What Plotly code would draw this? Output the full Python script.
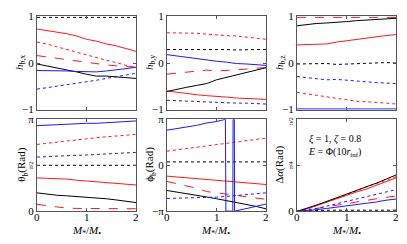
import math
import plotly.graph_objects as go

W, H = 407, 244
PI = math.pi

x = [0.0, 0.2, 0.4, 0.6, 0.8, 1.0, 1.2, 1.4, 1.6, 1.8, 2.0]
x_ticks = [0, 1, 2]
x_tick_labels = ["0", "1", "2"]

# h_b,x
hx_red_solid = [0.73, 0.70, 0.66, 0.63, 0.58, 0.51, 0.47, 0.41, 0.37, 0.31, 0.25]
hx_red_dash = [0.16, 0.13, 0.10, 0.07, 0.04, 0.01, -0.02, -0.04, -0.06, -0.08, -0.09]
hx_red_dot = [0.45, 0.41, 0.35, 0.29, 0.24, 0.17, 0.12, 0.06, 0.01, -0.05, -0.09]
hx_black_solid = [-0.02, -0.06, -0.10, -0.15, -0.19, -0.24, -0.28, -0.28, -0.30, -0.31, -0.33]
hx_black_dot = [0.98, 0.98, 0.98, 0.98, 0.98, 0.98, 0.98, 0.98, 0.98, 0.98, 0.98]
hx_blue_solid = [-0.16, -0.16, -0.16, -0.17, -0.18, -0.18, -0.19, -0.17, -0.15, -0.12, -0.09]
hx_blue_dot = [-0.56, -0.53, -0.50, -0.47, -0.44, -0.41, -0.37, -0.33, -0.29, -0.25, -0.22]

# h_b,y
hy_red_solid = [-0.60, -0.63, -0.66, -0.68, -0.70, -0.71, -0.73, -0.75, -0.76, -0.77, -0.78]
hy_red_dash = [-0.24, -0.22, -0.20, -0.18, -0.15, -0.17, -0.16, -0.14, -0.13, -0.11, -0.10]
hy_red_dot = [0.65, 0.65, 0.65, 0.64, 0.62, 0.60, 0.59, 0.58, 0.56, 0.54, 0.51]
hy_black_solid = [-0.61, -0.56, -0.52, -0.48, -0.44, -0.36, -0.31, -0.25, -0.20, -0.15, -0.10]
hy_black_dot = [0.29, 0.29, 0.29, 0.30, 0.29, 0.29, 0.29, 0.28, 0.29, 0.29, 0.29]
hy_blue_solid = [0.18, 0.15, 0.12, 0.09, 0.07, 0.04, 0.02, -0.01, -0.02, -0.04, -0.05]
hy_blue_dot = [-0.80, -0.81, -0.81, -0.82, -0.83, -0.84, -0.85, -0.86, -0.86, -0.87, -0.88]

# h_b,z
hz_red_solid = [0.39, 0.40, 0.40, 0.41, 0.45, 0.48, 0.51, 0.54, 0.56, 0.59, 0.61]
hz_red_dash = [0.98, 0.98, 0.98, 0.98, 0.98, 0.98, 0.98, 0.98, 0.98, 0.98, 0.98]
hz_red_dot = [-0.63, -0.66, -0.69, -0.72, -0.76, -0.79, -0.82, -0.83, -0.84, -0.86, -0.88]
hz_black_solid = [0.80, 0.83, 0.85, 0.86, 0.87, 0.89, 0.91, 0.92, 0.94, 0.95, 0.96]
hz_black_dot = [-0.02, -0.02, -0.01, -0.01, -0.03, -0.02, -0.01, -0.01, 0.00, 0.01, 0.00]
hz_blue_solid = [-0.985, -0.985, -0.985, -0.985, -0.985, -0.985, -0.985, -0.985, -0.985, -0.985, -0.985]
hz_blue_dot = [-0.29, -0.31, -0.33, -0.36, -0.35, -0.37, -0.39, -0.40, -0.42, -0.43, -0.44]

# theta_b (rad)
th_blue_solid = [2.92, 2.94, 2.95, 2.97, 2.98, 3.00, 3.00, 3.02, 3.03, 3.05, 3.08]
th_red_dot = [2.28, 2.32, 2.36, 2.40, 2.45, 2.48, 2.51, 2.54, 2.56, 2.59, 2.62]
th_blue_dot = [1.85, 1.87, 1.88, 1.89, 1.91, 1.92, 1.94, 1.96, 1.97, 1.99, 2.01]
th_black_dot = [1.57, 1.57, 1.56, 1.57, 1.58, 1.57, 1.57, 1.58, 1.57, 1.57, 1.57]
th_red_solid = [1.14, 1.13, 1.11, 1.10, 1.06, 1.03, 1.00, 0.97, 0.95, 0.92, 0.90]
th_black_solid = [0.63, 0.58, 0.55, 0.53, 0.51, 0.48, 0.46, 0.43, 0.39, 0.34, 0.30]
th_red_dash = [0.24, 0.19, 0.15, 0.11, 0.10, 0.10, 0.11, 0.10, 0.10, 0.09, 0.09]

# phi_b (rad)
ph_red_dot = [0.96, 1.05, 1.13, 1.22, 1.31, 1.40, 1.49, 1.58, 1.67, 1.76, 1.85]
ph_black_dot = [0.23, 0.23, 0.22, 0.23, 0.23, 0.22, 0.23, 0.23, 0.22, 0.23, 0.23]
ph_red_solid = [-0.74, -0.80, -0.85, -0.91, -0.97, -1.03, -1.08, -1.14, -1.19, -1.25, -1.31]
ph_red_dash = [-1.10, -1.26, -1.41, -1.57, -1.79, -1.88, -1.95, -2.01, -2.10, -2.20, -2.32]
ph_black_solid = [-1.72, -1.82, -1.93, -2.05, -2.16, -2.28, -2.40, -2.52, -2.65, -2.80, -2.97]
ph_blue_dot = [-2.26, -2.25, -2.24, -2.22, -2.20, -2.17, -2.12, -2.06, -2.00, -1.94, -1.88]
ph_blue_solid_x = [0.0, 0.2, 0.4, 0.6, 0.8, 1.0, 1.18, 1.19, 1.25, 1.33, 1.335, 1.36, 1.365, 1.4, 1.6, 1.8, 2.0]
ph_blue_solid = [2.39, 2.50, 2.57, 2.72, 2.88, 2.98, 3.13, -3.13, -3.12, -3.13, 3.13, 3.12, -3.13, -3.10, -2.98, -2.80, -2.64]

# delta alpha (rad)
da_black_solid = [0, 0.05, 0.11, 0.17, 0.23, 0.29, 0.35, 0.42, 0.48, 0.55, 0.62]
da_red_solid = [0, 0.04, 0.10, 0.16, 0.22, 0.28, 0.33, 0.38, 0.44, 0.51, 0.57]
da_red_dot = [0, 0.04, 0.10, 0.16, 0.21, 0.28, 0.35, 0.42, 0.47, 0.53, 0.59]
da_blue_dot = [0, 0.02, 0.05, 0.09, 0.13, 0.17, 0.21, 0.25, 0.29, 0.33, 0.37]
da_red_dash = [0, 0.02, 0.05, 0.08, 0.10, 0.13, 0.16, 0.19, 0.21, 0.24, 0.26]
da_blue_solid = [0, 0.01, 0.03, 0.05, 0.07, 0.09, 0.11, 0.14, 0.16, 0.19, 0.21]
da_black_dot = [0, 0.01, 0.01, 0.02, 0.02, 0.02, 0.03, 0.02, 0.02, 0.02, 0.02]

RED, BLUE, BLACK = "#ff1a1a", "#1a1aff", "#000000"
FRAME = "#555555"
FONT = "Liberation Serif"

fig = go.Figure()

def px_x(p):
    return p / W

def px_y(p):
    return 1 - p / H

cols = [(37, 136), (167, 266), (297, 396)]
rows = [(11, 109), (119, 216)]

def add(ax_i, xs, ys, color, dash):
    suffix = "" if ax_i == 1 else str(ax_i)
    fig.add_trace(go.Scatter(x=xs, y=ys, mode="lines",
                             line=dict(color=color, width=1.0, dash=dash),
                             xaxis="x" + suffix, yaxis="y" + suffix,
                             showlegend=False, hoverinfo="skip"))

panels = [
    (1, [(hx_red_solid, RED, "solid"), (hx_red_dash, RED, "dash"), (hx_red_dot, RED, "dot"),
         (hx_black_solid, BLACK, "solid"), (hx_black_dot, BLACK, "dot"),
         (hx_blue_solid, BLUE, "solid"), (hx_blue_dot, BLUE, "dot")]),
    (2, [(hy_red_solid, RED, "solid"), (hy_red_dash, RED, "dash"), (hy_red_dot, RED, "dot"),
         (hy_black_solid, BLACK, "solid"), (hy_black_dot, BLACK, "dot"),
         (hy_blue_solid, BLUE, "solid"), (hy_blue_dot, BLUE, "dot")]),
    (3, [(hz_red_solid, RED, "solid"), (hz_red_dash, RED, "dash"), (hz_red_dot, RED, "dot"),
         (hz_black_solid, BLACK, "solid"), (hz_black_dot, BLACK, "dot"),
         (hz_blue_solid, BLUE, "solid"), (hz_blue_dot, BLUE, "dot")]),
    (4, [(th_red_solid, RED, "solid"), (th_red_dash, RED, "dash"), (th_red_dot, RED, "dot"),
         (th_black_solid, BLACK, "solid"), (th_black_dot, BLACK, "dot"),
         (th_blue_solid, BLUE, "solid"), (th_blue_dot, BLUE, "dot")]),
    (5, [(ph_red_solid, RED, "solid"), (ph_red_dash, RED, "dash"), (ph_red_dot, RED, "dot"),
         (ph_black_solid, BLACK, "solid"), (ph_black_dot, BLACK, "dot"),
         (ph_blue_dot, BLUE, "dot")]),
    (6, [(da_red_solid, RED, "solid"), (da_red_dash, RED, "dash"), (da_red_dot, RED, "dot"),
         (da_black_solid, BLACK, "solid"), (da_black_dot, BLACK, "dot"),
         (da_blue_solid, BLUE, "solid"), (da_blue_dot, BLUE, "dot")]),
]
for ax_i, series in panels:
    for ys, c, d in series:
        add(ax_i, x, ys, c, d)
add(5, ph_blue_solid_x, ph_blue_solid, BLUE, "solid")

tickfont = dict(family=FONT, size=11, color="black")
yspecs = {
    1: ([-1, 0, 1], ["−1", "0", "1"], [-1, 1]),
    2: ([-1, 0, 1], ["−1", "0", "1"], [-1, 1]),
    3: ([-1, 0, 1], ["−1", "0", "1"], [-1, 1]),
    4: ([0, PI / 2, PI], ["0", "", "π"], [0, PI]),
    5: ([-PI, 0, PI], ["−π", "0", "π"], [-PI, PI]),
    6: ([0, PI / 4, PI / 2], ["0", "", ""], [0, PI / 2]),
}
layout = {}
for i in range(1, 7):
    r = 0 if i <= 3 else 1
    c = (i - 1) % 3
    suffix = "" if i == 1 else str(i)
    x0, x1 = cols[c]
    y0, y1 = rows[r]
    layout["xaxis" + suffix] = dict(
        domain=[px_x(x0), px_x(x1)], range=[0, 2], anchor="y" + suffix,
        tickvals=x_ticks, showticklabels=False,
        ticks="inside", ticklen=3, tickcolor=FRAME, showline=True, linecolor=FRAME,
        linewidth=1, mirror="ticks", showgrid=False, zeroline=False)
    tv, tt, rg = yspecs[i]
    layout["yaxis" + suffix] = dict(
        domain=[px_y(y1), px_y(y0)], range=rg, anchor="x" + suffix,
        tickvals=tv, ticktext=tt, ticks="inside", ticklen=3, tickcolor=FRAME,
        showline=True, linecolor=FRAME, linewidth=1, mirror="ticks",
        showgrid=False, zeroline=False, tickfont=tickfont)

ann = []
def label(text, xp, yp, angle=-90, size=11):
    ann.append(dict(text=text, x=px_x(xp), y=px_y(yp), xref="paper", yref="paper",
                    showarrow=False, textangle=angle,
                    font=dict(family=FONT, size=size, color="black"),
                    xanchor="center", yanchor="middle"))

label("<i>h</i><sub>b,x</sub>", 20, 60)
label("<i>h</i><sub>b,y</sub>", 150, 60)
label("<i>h</i><sub>b,z</sub>", 280, 60)
label("θ<sub>b</sub>(Rad)", 22, 167)
label("ϕ<sub>b</sub>(Rad)", 150, 167)
label("Δ<i>α</i>(Rad)", 280, 167)
for cx in (86, 216, 346):
    label("<i>M</i><sub>*</sub>/<i>M</i><sub>•</sub>", cx, 236.5, angle=0)
# x tick labels of the bottom row, placed at the axis tick values
for ax in ("x4", "x5", "x6"):
    for v, t in zip(x_ticks, x_tick_labels):
        ann.append(dict(text=t, x=v, xref=ax, y=px_y(222), yref="paper",
                        showarrow=False, xanchor="center", yanchor="middle",
                        font=dict(family=FONT, size=11, color="black")))
# small rotated fraction tick labels
label("π/2", 31, 167.5, size=6)
label("π/4", 291, 167.5, size=6)
label("π/2", 291, 121, size=6)

ann.append(dict(text="<i>ξ</i> = 1, <i>ζ</i> = 0.8<br><i>E</i> = Φ(10<i>r</i><sub>inf</sub>)",
                x=px_x(306), y=px_y(131), xref="paper", yref="paper", showarrow=False,
                align="left", xanchor="left", yanchor="top",
                font=dict(family=FONT, size=10, color="black")))

fig.update_layout(width=W, height=H, margin=dict(l=0, r=0, t=0, b=0),
                  paper_bgcolor="white", plot_bgcolor="white",
                  annotations=ann, showlegend=False, **layout)
fig.write_html("out.html", config={"displayModeBar": False},
               post_script="document.body.style.margin='0';document.body.style.overflow='hidden';")
